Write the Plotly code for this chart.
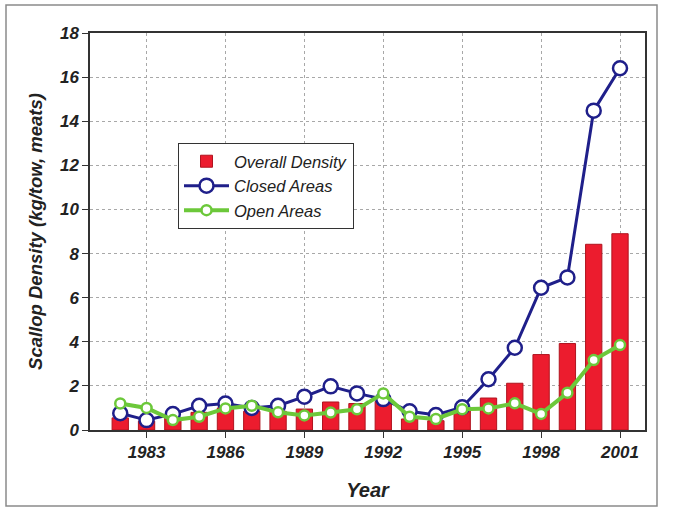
import plotly.graph_objects as go

# Survey years
years = list(range(1982, 2002))

# Scallop density (kg/tow, meats)
overall_density = [0.55, 0.40, 0.55, 0.80, 1.00, 0.85, 0.85, 0.95, 1.27, 1.20,
                   1.30, 0.50, 0.42, 0.95, 1.45, 2.12, 3.42, 3.92, 8.42, 8.90]
closed_areas = [0.76, 0.45, 0.72, 1.10, 1.20, 1.00, 1.10, 1.51, 1.98, 1.66,
                1.40, 0.85, 0.68, 1.03, 2.30, 3.73, 6.45, 6.92, 14.48, 16.40]
open_areas = [1.20, 1.00, 0.45, 0.60, 0.98, 1.10, 0.80, 0.66, 0.79, 0.94,
              1.66, 0.60, 0.50, 0.94, 0.98, 1.21, 0.73, 1.69, 3.17, 3.85]

x_ticks = [1983, 1986, 1989, 1992, 1995, 1998, 2001]
y_ticks = list(range(0, 19, 2))

FONT = "Liberation Sans, Arial, sans-serif"

fig = go.Figure()

fig.add_trace(go.Bar(
    x=years, y=overall_density, name="Overall Density",
    width=0.62,
    marker=dict(color="#ec1c2e", line=dict(color="#b0141f", width=1)),
))

fig.add_trace(go.Scatter(
    x=years, y=closed_areas, name="Closed Areas",
    mode="lines+markers",
    line=dict(color="#1f1f8a", width=3),
    marker=dict(symbol="circle", size=14, color="white",
                line=dict(color="#1f1f8a", width=2.5)),
))

fig.add_trace(go.Scatter(
    x=years, y=open_areas, name="Open Areas",
    mode="lines+markers",
    line=dict(color="#6cc83a", width=4),
    marker=dict(symbol="circle", size=10, color="white",
                line=dict(color="#6cc83a", width=2.5)),
))

L, R, T, B = 90, 32, 33, 84
W, H = 677, 514
pw, ph = W - L - R, H - T - B

def px_x(p):
    return (p - L) / pw

def px_y(p):
    return (H - B - p) / ph

# outer frame around the figure
fig.add_shape(type="rect", xref="paper", yref="paper",
              x0=px_x(6), x1=px_x(657), y0=px_y(506), y1=px_y(5),
              line=dict(color="#8a8a8a", width=1.5), layer="below")

fig.update_layout(
    width=W, height=H,
    margin=dict(l=L, r=R, t=T, b=B),
    paper_bgcolor="white", plot_bgcolor="white",
    font=dict(family=FONT, color="#222222"),
    showlegend=True,
    legend=dict(
        x=px_x(178), y=px_y(143), xanchor="left", yanchor="top",
        bgcolor="white", bordercolor="#333333", borderwidth=1,
        font=dict(family=FONT, size=16.5, style="italic", color="#222222"),
        itemwidth=45, tracegroupgap=0,
    ),
    bargap=0.4,
)

fig.update_xaxes(
    range=[1980.85, 2001.95],
    tickmode="array", tickvals=x_ticks, ticktext=[str(v) for v in x_ticks],
    ticks="outside", ticklen=6, tickcolor="#333333",
    showline=True, linecolor="#333333", linewidth=1.5, mirror=True,
    showgrid=True, gridcolor="#a8a8a8", griddash="dot", gridwidth=1,
    zeroline=False,
    tickfont=dict(family=FONT, size=17, weight="bold", style="italic", color="#222222"),
    title=dict(text="Year", standoff=22,
               font=dict(family=FONT, size=20, weight="bold", style="italic", color="#222222")),
)

fig.update_yaxes(
    range=[0, 18],
    tickmode="array", tickvals=y_ticks, ticktext=[str(v) for v in y_ticks],
    ticks="outside", ticklen=6, tickcolor="#333333",
    showline=True, linecolor="#333333", linewidth=1.5, mirror=True,
    showgrid=True, gridcolor="#a8a8a8", griddash="dot", gridwidth=1,
    zeroline=False,
    tickfont=dict(family=FONT, size=17, weight="bold", style="italic", color="#222222"),
    title=dict(text="Scallop Density (kg/tow, meats)", standoff=12,
               font=dict(family=FONT, size=18.5, weight="bold", style="italic", color="#222222")),
)

fig.write_html("out.html")
